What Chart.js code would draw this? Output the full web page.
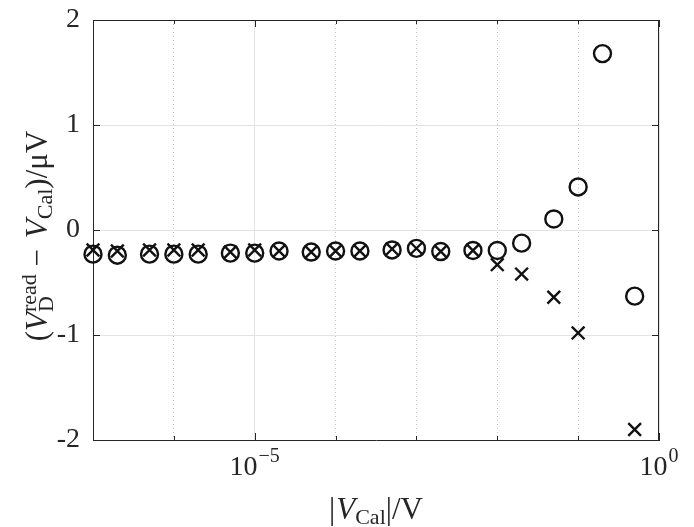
<!DOCTYPE html>
<html>
<head>
<meta charset="utf-8">
<script src="https://cdn.jsdelivr.net/npm/chart.js@4"></script>
<style>
  html, body { margin: 0; padding: 0; background: #fff; }
  canvas { display: block; }
</style>
</head>
<body>
<canvas id="chart" width="694" height="527"></canvas>
<script>
// calibration voltages |V_Cal| in volt
const calVoltages = [1e-7, 2e-7, 5e-7, 1e-6, 2e-6, 5e-6, 1e-5, 2e-5, 5e-5, 1e-4, 2e-4,
    5e-4, 1e-3, 2e-3, 5e-3, 1e-2, 2e-2, 5e-2, 0.1, 0.2, 0.5];

// deviation (V_D^read - V_Cal) in microvolt, circle markers
const circleDeviation = [-0.23, -0.24, -0.23, -0.23, -0.23, -0.22, -0.22, -0.20, -0.21, -0.20, -0.20,
    -0.19, -0.175, -0.205, -0.195, -0.195, -0.125, 0.105, 0.41, 1.68, -0.63];

// deviation in microvolt, cross markers
const crossDeviation = [-0.19, -0.20, -0.19, -0.19, -0.19, -0.21, -0.19, -0.20, -0.21, -0.20, -0.20,
    -0.18, -0.175, -0.205, -0.195, -0.33, -0.42, -0.64, -0.98, null, -1.90];

// decade ticks on the x axis, labelled ones carry an exponent
const xDecades = [1e-7, 1e-6, 1e-5, 1e-4, 1e-3, 1e-2, 1e-1, 1];
const xLabelled = { '0.00001': '\u22125', '1': '0' };
const yTicks = [-2, -1, 0, 1, 2];

const FONT = 'Liberation Serif';
const INK = '#262626';

function isLabelled(v) {
    return xLabelled[String(v)] !== undefined;
}

// lay out runs of text with sub/superscripts, return positions and width
function layoutRuns(ctx, runs) {
    let x = 0;
    let stackStart = null;
    let stackW = 0;
    const placed = [];
    runs.forEach(r => {
        ctx.font = (r.it ? 'italic ' : '') + r.size + 'px "' + FONT + '"';
        const w = ctx.measureText(r.t).width + (r.gap || 0);
        if (stackStart !== null) {
            placed.push(Object.assign({}, r, { x: stackStart }));
            x = stackStart + Math.max(stackW, w);
            stackStart = null;
        } else if (r.stack) {
            placed.push(Object.assign({}, r, { x: x }));
            stackStart = x;
            stackW = w;
        } else {
            placed.push(Object.assign({}, r, { x: x }));
            x += w;
        }
    });
    return { placed: placed, width: x };
}

function drawRuns(ctx, runs, cx, baseline) {
    const lay = layoutRuns(ctx, runs);
    const x0 = cx - lay.width / 2;
    ctx.fillStyle = INK;
    ctx.textBaseline = 'alphabetic';
    ctx.textAlign = 'left';
    lay.placed.forEach(r => {
        ctx.font = (r.it ? 'italic ' : '') + r.size + 'px "' + FONT + '"';
        ctx.fillText(r.t, x0 + r.x, baseline + (r.dy || 0));
    });
}

const frameAndLabels = {
    id: 'frameAndLabels',
    afterDraw(chart) {
        const ctx = chart.ctx;
        const area = chart.chartArea;
        const xs = chart.scales.x;
        const ys = chart.scales.y;
        ctx.save();

        // box and inward tick marks
        ctx.strokeStyle = INK;
        ctx.lineWidth = 1;
        ctx.beginPath();
        ctx.moveTo(area.left, area.top + 0.5);
        ctx.lineTo(area.right, area.top + 0.5);
        ctx.moveTo(area.right - 0.5, area.top);
        ctx.lineTo(area.right - 0.5, area.bottom);
        xs.ticks.forEach(t => {
            const px = Math.round(xs.getPixelForValue(t.value)) + 0.5;
            const len = isLabelled(t.value) ? 7 : 4;
            ctx.moveTo(px, area.bottom);
            ctx.lineTo(px, area.bottom - len);
            ctx.moveTo(px, area.top);
            ctx.lineTo(px, area.top + len);
        });
        ys.ticks.forEach(t => {
            const py = Math.round(ys.getPixelForValue(t.value)) + 0.5;
            ctx.moveTo(area.left, py);
            ctx.lineTo(area.left + 7, py);
            ctx.moveTo(area.right, py);
            ctx.lineTo(area.right - 7, py);
        });
        ctx.stroke();

        // x tick labels 10^-5 and 10^0
        xs.ticks.forEach(t => {
            if (!isLabelled(t.value)) return;
            const px = xs.getPixelForValue(t.value);
            drawRuns(ctx, [
                { t: '10', size: 28, gap: 1 },
                { t: xLabelled[String(t.value)], size: 20, dy: -13 }
            ], px, area.bottom + 35);
        });

        // x axis title |V_Cal|/V
        drawRuns(ctx, [
            { t: '|', size: 31, gap: 1 },
            { t: 'V', it: true, size: 31 },
            { t: 'Cal', size: 22, dy: 5 },
            { t: '|/V', size: 31 }
        ], (area.left + area.right) / 2, 519);

        // y axis title (V_D^read - V_Cal)/uV
        ctx.translate(47, (area.top + area.bottom) / 2 + 6);
        ctx.rotate(-Math.PI / 2);
        drawRuns(ctx, [
            { t: '(', size: 31 },
            { t: 'V', it: true, size: 31 },
            { t: 'D', size: 22, dy: 6, stack: true },
            { t: 'read', size: 22, dy: -11 },
            { t: ' \u2212 ', size: 31, gap: 3 },
            { t: 'V', it: true, size: 31 },
            { t: 'Cal', size: 22, dy: 5 },
            { t: ')/\u03bcV', size: 31 }
        ], 0, 0);

        ctx.restore();
    }
};

const ctx = document.getElementById('chart').getContext('2d');
const chart = new Chart(ctx, {
    type: 'scatter',
    data: {
        datasets: [
            {
                label: 'circles',
                data: calVoltages.map((v, i) => ({ x: v, y: circleDeviation[i] })),
                pointStyle: 'circle',
                pointRadius: 8.5,
                pointHoverRadius: 8.5,
                pointBorderWidth: 2.4,
                pointBorderColor: '#111',
                pointBackgroundColor: 'rgba(0,0,0,0)',
                clip: false
            },
            {
                label: 'crosses',
                data: calVoltages.map((v, i) => ({ x: v, y: crossDeviation[i] })),
                pointStyle: 'crossRot',
                pointRadius: 9,
                pointHoverRadius: 9,
                pointBorderWidth: 2.4,
                pointBorderColor: '#111',
                clip: false
            }
        ]
    },
    options: {
        responsive: false,
        animation: false,
        devicePixelRatio: 1,
        layout: { padding: { left: 0, right: 35, top: 20, bottom: 0 } },
        plugins: {
            legend: { display: false },
            tooltip: { enabled: false }
        },
        scales: {
            x: {
                type: 'logarithmic',
                min: 1e-7,
                max: 1,
                afterBuildTicks: scale => {
                    scale.ticks = xDecades.map(v => ({ value: v, major: isLabelled(v) }));
                },
                afterFit: scale => {
                    scale.height = 87;
                    scale.paddingLeft = 0;
                    scale.paddingRight = 0;
                },
                ticks: { display: false },
                grid: {
                    drawTicks: false,
                    lineWidth: 1,
                    color: c => (c.tick && isLabelled(c.tick.value)) ? '#e3e3e3' : '#c4c4c4'
                },
                border: {
                    color: INK,
                    width: 1,
                    dash: c => (c.type === 'tick' && c.tick && !isLabelled(c.tick.value)) ? [1, 3] : []
                }
            },
            y: {
                min: -2,
                max: 2,
                afterBuildTicks: scale => {
                    scale.ticks = yTicks.map(v => ({ value: v }));
                },
                afterFit: scale => {
                    scale.width = 93;
                    scale.paddingTop = 0;
                    scale.paddingBottom = 0;
                },
                ticks: {
                    padding: 13,
                    color: INK,
                    font: { family: FONT, size: 28 }
                },
                grid: {
                    drawTicks: false,
                    lineWidth: 1,
                    color: '#e3e3e3'
                },
                border: { color: INK, width: 1 }
            }
        }
    },
    plugins: [frameAndLabels]
});
</script>
</body>
</html>
